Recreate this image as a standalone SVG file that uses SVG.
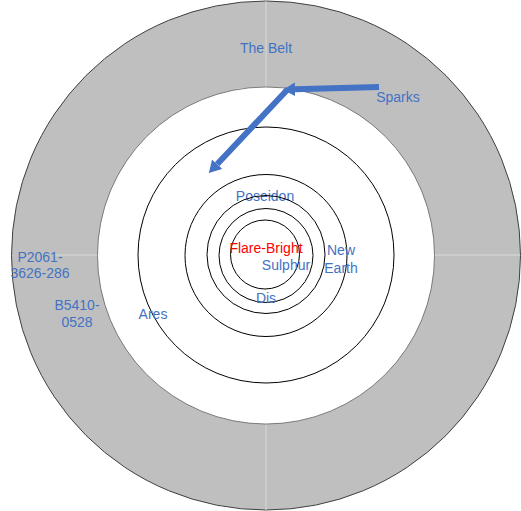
<svg xmlns="http://www.w3.org/2000/svg" width="521" height="511" viewBox="0 0 521 511">
<style>
.lbl{font-family:"Liberation Sans",Arial,sans-serif;font-size:14px;fill:#4472c4;text-anchor:middle}
.red{fill:#ff0000}
.orbit{fill:none;stroke:#000;stroke-width:1}
.grid{stroke:#d9d9d9;stroke-width:1}
.arrow{fill:none;stroke:#4472c4;stroke-width:6;marker-end:url(#ah)}
</style>
<defs>
<marker id="ah" viewBox="0 0 10 10" refX="0" refY="5" markerWidth="2" markerHeight="2.3" orient="auto" markerUnits="strokeWidth" preserveAspectRatio="none">
<path d="M0,0 L10,5 L0,10 z" fill="#4472c4"/>
</marker>
</defs>
<rect width="521" height="511" fill="#fff"/>
<g id="belt">
<circle cx="266" cy="255.5" r="254.5" fill="#bfbfbf" stroke="#404040" stroke-width="1"/>
<line class="grid" x1="266" y1="1" x2="266" y2="87"/>
<line class="grid" x1="266" y1="424" x2="266" y2="510"/>
<line class="grid" x1="55" y1="255" x2="98" y2="255"/>
<line class="grid" x1="434" y1="255" x2="520" y2="255"/>
<circle cx="266" cy="255.5" r="168.5" fill="#fff" stroke="#595959" stroke-width="0.75"/>
<text class="lbl" x="266" y="53">The Belt</text>
</g>
<g id="ares"><circle class="orbit" cx="266" cy="255" r="128"/><text class="lbl" x="153" y="319">Ares</text></g>
<g id="poseidon"><circle class="orbit" cx="266" cy="255.5" r="81"/><text class="lbl" x="265" y="201">Poseidon</text></g>
<g id="new-earth"><circle class="orbit" cx="266" cy="254.5" r="59"/><text class="lbl" x="341" y="255">New</text><text class="lbl" x="341" y="273">Earth</text></g>
<g id="dis"><circle class="orbit" cx="266" cy="255.5" r="47"/><text class="lbl" x="266" y="303">Dis</text></g>
<g id="sulphur"><circle class="orbit" cx="265" cy="254.5" r="34.5"/><text class="lbl" x="286" y="270">Sulphur</text></g>
<g id="flare-bright"><text class="lbl red" x="266" y="253">Flare-Bright</text></g>
<g id="p2061"><text class="lbl" x="40" y="262">P2061-</text><text class="lbl" x="40" y="278">3626-286</text></g>
<g id="b5410"><text class="lbl" x="77" y="310">B5410-</text><text class="lbl" x="77" y="327">0528</text></g>
<g id="sparks"><text class="lbl" x="398" y="102">Sparks</text></g>
<g id="connectors">
<path class="arrow" d="M379,87 L295,89.3"/>
<path class="arrow" d="M288,89 L217.1,164.2"/>
</g>
</svg>
